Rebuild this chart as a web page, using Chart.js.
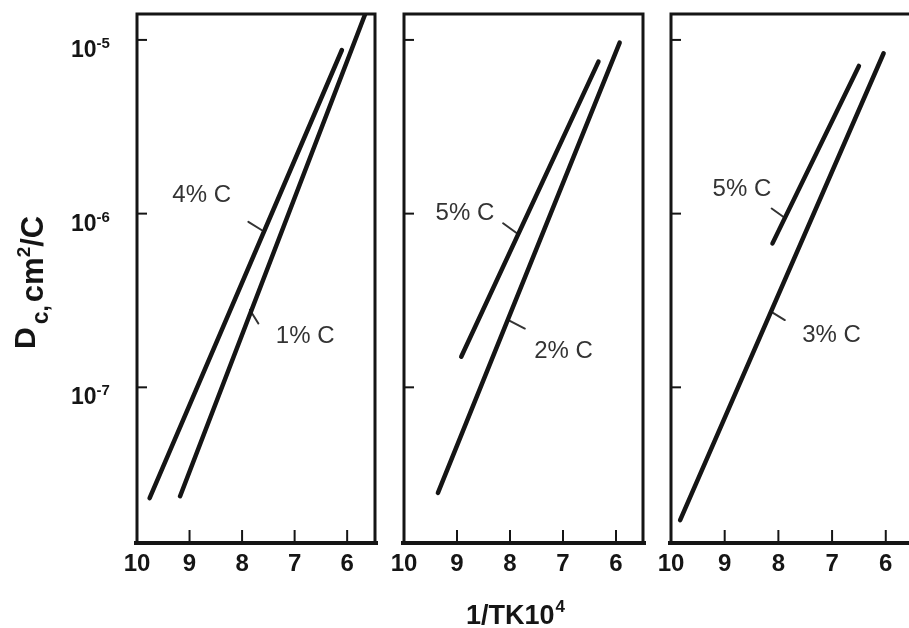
<!DOCTYPE html>
<html><head><meta charset="utf-8">
<script src="https://cdn.jsdelivr.net/npm/chart.js@4.4.1/dist/chart.umd.min.js"></script>
<style>
html,body{margin:0;padding:0;background:#fff;overflow:hidden;width:909px;height:628px;position:relative;}
canvas{position:absolute;left:0;top:0;}
</style></head><body>
<canvas id="p1" width="930" height="628"></canvas>
<canvas id="p2" width="930" height="628"></canvas>
<canvas id="p3" width="930" height="628"></canvas>
<script>
// ---------- data ----------
const xTicks = [10, 9, 8, 7, 6];
const yTicks = [1e-5, 1e-6, 1e-7];
const yTickExponents = ['-5', '-6', '-7'];
const yMin = 1.27e-8, yMax = 1.41e-5;
const xMax = 10;
const xMinPanels = [5.47, 5.49, 5.53];

// panel 1
const p1Carbon4 = [{x: 9.76, y: 2.30e-8}, {x: 6.10, y: 8.75e-6}];
const p1Carbon1 = [{x: 9.18, y: 2.36e-8}, {x: 5.66, y: 1.40e-5}];
// panel 2
const p2Carbon5 = [{x: 8.92, y: 1.50e-7}, {x: 6.33, y: 7.50e-6}];
const p2Carbon2 = [{x: 9.36, y: 2.47e-8}, {x: 5.93, y: 9.65e-6}];
// panel 3
const p3Carbon5 = [{x: 8.11, y: 6.74e-7}, {x: 6.50, y: 7.08e-6}];
const p3Carbon3 = [{x: 9.83, y: 1.72e-8}, {x: 6.04, y: 8.38e-6}];

// curve labels: text + anchor in data units
const p1Labels = [{text: '4% C', x: 8.77, y: 1.28e-6}, {text: '1% C', x: 6.80, y: 1.97e-7}];
const p2Labels = [{text: '5% C', x: 8.85, y: 1.00e-6}, {text: '2% C', x: 6.99, y: 1.60e-7}];
const p3Labels = [{text: '5% C', x: 8.68, y: 1.37e-6}, {text: '3% C', x: 7.01, y: 2.00e-7}];
// leader lines joining labels to curves
const p1Leaders = [[{x: 7.88, y: 8.97e-7}, {x: 7.63, y: 8.05e-7}], [{x: 7.85, y: 2.79e-7}, {x: 7.69, y: 2.33e-7}]];
const p2Leaders = [[{x: 8.13, y: 8.80e-7}, {x: 7.87, y: 7.71e-7}], [{x: 8.03, y: 2.44e-7}, {x: 7.72, y: 2.18e-7}]];
const p3Leaders = [[{x: 8.125, y: 1.07e-6}, {x: 7.91, y: 9.60e-7}], [{x: 8.13, y: 2.72e-7}, {x: 7.88, y: 2.44e-7}]];

const yTitleParts = ['D', 'c,', 'cm', '2', '/C'];
const xTitleParts = ['1/TK10', '4'];

// ---------- layout (pixels) ----------
const CW = 930, CH = 628;
const boxes = [
  {l: 137, r: 375, t: 14, b: 543},
  {l: 404, r: 643, t: 14, b: 543},
  {l: 671, r: 911, t: 14, b: 543}
];
const INK = '#151515';
const FONT = '"Liberation Sans", Arial, Helvetica, sans-serif';

const panelExtras = {};

const framePlugin = {
  id: 'frame',
  afterDraw(chart) {
    const ctx = chart.ctx, a = chart.chartArea;
    const xs = chart.scales.x, ys = chart.scales.y;
    const ex = panelExtras[chart.canvas.id];
    ctx.save();
    ctx.strokeStyle = INK;
    ctx.lineWidth = 3;
    ctx.lineCap = 'square';
    ctx.beginPath();
    ctx.moveTo(a.left, a.bottom);
    ctx.lineTo(a.left, a.top);
    ctx.lineTo(a.right, a.top);
    ctx.lineTo(a.right, a.bottom);
    ctx.stroke();
    ctx.lineWidth = 4;
    ctx.beginPath();
    ctx.moveTo(a.left - 1, a.bottom);
    ctx.lineTo(a.right + 1, a.bottom);
    ctx.stroke();
    // inward ticks
    ctx.lineWidth = 2;
    ctx.lineCap = 'butt';
    xTicks.forEach(v => {
      const x = xs.getPixelForValue(v);
      if (Math.abs(x - a.left) < 4) return;
      ctx.beginPath(); ctx.moveTo(x, a.bottom); ctx.lineTo(x, a.bottom - 13); ctx.stroke();
    });
    yTicks.forEach(v => {
      const y = ys.getPixelForValue(v);
      ctx.beginPath(); ctx.moveTo(a.left, y); ctx.lineTo(a.left + 10, y); ctx.stroke();
    });
    // curve labels
    ctx.fillStyle = '#333';
    ctx.font = '24px ' + FONT;
    ctx.textAlign = 'center';
    ctx.textBaseline = 'middle';
    ex.labels.forEach(l => ctx.fillText(l.text, xs.getPixelForValue(l.x), ys.getPixelForValue(l.y)));
    // y tick labels + titles on first panel
    if (ex.first) {
      ctx.fillStyle = INK;
      ctx.textAlign = 'left';
      ctx.textBaseline = 'alphabetic';
      yTicks.forEach((v, i) => {
        const T = ys.getPixelForValue(v);
        ctx.font = 'bold 23px ' + FONT;
        ctx.fillText('10', 71, T + 17);
        const w = ctx.measureText('10').width;
        ctx.font = 'bold 15px ' + FONT;
        ctx.fillText(yTickExponents[i], 71 + w, T + 8);
      });
      // y title (rotated)
      ctx.save();
      ctx.translate(43, 349);
      ctx.rotate(-Math.PI / 2);
      let cx = 0;
      ctx.font = 'bold 30px ' + FONT;
      ctx.fillText(yTitleParts[0], cx, -8); cx += ctx.measureText(yTitleParts[0]).width + 3;
      ctx.font = 'bold 23px ' + FONT;
      ctx.fillText(yTitleParts[1], cx, 5); cx += ctx.measureText(yTitleParts[1]).width + 3;
      ctx.font = 'bold 31px ' + FONT;
      ctx.fillText(yTitleParts[2], cx, 0); cx += ctx.measureText(yTitleParts[2]).width;
      ctx.font = 'bold 19px ' + FONT;
      ctx.fillText(yTitleParts[3], cx, -13); cx += ctx.measureText(yTitleParts[3]).width;
      ctx.font = 'bold 31px ' + FONT;
      ctx.fillText(yTitleParts[4], cx, 0);
      ctx.restore();
      // x title
      ctx.font = 'bold 27px ' + FONT;
      ctx.fillText(xTitleParts[0], 466, 624);
      const w2 = ctx.measureText(xTitleParts[0]).width;
      ctx.font = 'bold 17px ' + FONT;
      ctx.fillText(xTitleParts[1], 466 + w2 + 1, 612);
    }
    ctx.restore();
  }
};

function makePanel(id, idx, curves, leaders, labels) {
  const box = boxes[idx];
  panelExtras[id] = {labels: labels, first: idx === 0};
  const datasets = [];
  curves.forEach(c => datasets.push({data: c, borderWidth: 4.5, borderColor: INK}));
  leaders.forEach(c => datasets.push({data: c, borderWidth: 2, borderColor: '#333'}));
  return new Chart(document.getElementById(id), {
    type: 'scatter',
    data: {datasets: datasets.map(d => Object.assign({
      showLine: true, pointRadius: 0, pointHoverRadius: 0, fill: false,
      borderCapStyle: 'round', tension: 0
    }, d))},
    options: {
      responsive: false, animation: false, devicePixelRatio: 1,
      layout: {padding: {left: box.l, right: CW - box.r, top: box.t, bottom: CH - box.b - 40}},
      plugins: {legend: {display: false}, tooltip: {enabled: false}},
      scales: {
        x: {
          type: 'linear', reverse: true, min: xMinPanels[idx], max: xMax,
          grid: {display: false, drawTicks: false}, border: {display: false},
          afterBuildTicks: s => { s.ticks = xTicks.map(v => ({value: v})); },
          afterFit: s => { s.height = 40; },
          ticks: {font: {family: FONT, weight: 'bold', size: 24}, color: INK, padding: 7, maxRotation: 0, autoSkip: false}
        },
        y: {type: 'logarithmic', display: false, min: yMin, max: yMax}
      }
    },
    plugins: [framePlugin]
  });
}

makePanel('p1', 0, [p1Carbon4, p1Carbon1], p1Leaders, p1Labels);
makePanel('p2', 1, [p2Carbon5, p2Carbon2], p2Leaders, p2Labels);
makePanel('p3', 2, [p3Carbon5, p3Carbon3], p3Leaders, p3Labels);
</script>
</body></html>
